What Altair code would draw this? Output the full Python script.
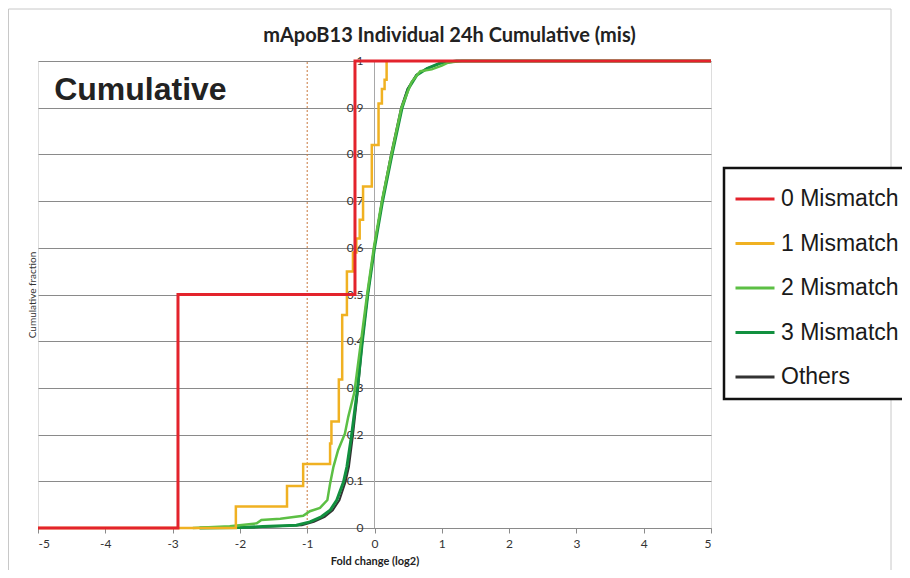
import altair as alt
import pandas as pd

# ---- data ----
series_names = ["0 Mismatch", "1 Mismatch", "2 Mismatch", "3 Mismatch", "Others"]
series_colors = ["#e3232c", "#f0b122", "#5cbf44", "#12903f", "#333333"]

x0 = [-5.0, -2.92, -0.29, 5.0]
y0 = [0.0, 0.5, 1.0, 1.0]

x1 = [-5.0, -2.06, -1.30, -1.06, -0.66, -0.64, -0.53, -0.48, -0.41, -0.32,
      -0.27, -0.22, -0.17, -0.04, 0.06, 0.11, 0.15, 0.18]
y1 = [0.0, 0.046, 0.09, 0.137, 0.181, 0.228, 0.318, 0.456, 0.549, 0.59,
      0.62, 0.66, 0.731, 0.82, 0.909, 0.94, 0.96, 1.0]

x2 = [-2.7, -2.15, -1.75, -1.68, -1.40, -1.06, -0.96, -0.81, -0.70, -0.66,
      -0.61, -0.54, -0.44, -0.39, -0.30, -0.20, -0.11, -0.01, 0.11, 0.25,
      0.40, 0.55, 0.68, 0.85, 1.00, 1.10, 1.30, 5.0]
y2 = [0.0, 0.004, 0.01, 0.017, 0.02, 0.026, 0.036, 0.043, 0.06, 0.095,
      0.131, 0.167, 0.202, 0.238, 0.29, 0.40, 0.50, 0.60, 0.70, 0.80,
      0.90, 0.955, 0.978, 0.982, 0.99, 0.997, 1.0, 1.0]

x3 = [-2.6, -2.0, -1.66, -1.16, -0.96, -0.79, -0.66, -0.56, -0.46, -0.41,
      -0.34, -0.26, -0.18, -0.10, 0.0, 0.12, 0.26, 0.41, 0.50, 0.63,
      0.78, 0.97, 1.22, 5.0]
y3 = [0.0, 0.001, 0.003, 0.006, 0.013, 0.024, 0.038, 0.06, 0.099, 0.131,
      0.199, 0.29, 0.40, 0.50, 0.60, 0.70, 0.80, 0.90, 0.94, 0.97,
      0.984, 0.995, 1.0, 1.0]

xo = [-2.5, -1.9, -1.55, -1.08, -0.90, -0.74, -0.62, -0.52, -0.43, -0.38,
      -0.32, -0.25, -0.18, -0.10, -0.005, 0.11, 0.245, 0.395, 0.49, 0.62,
      0.78, 0.98, 1.24, 5.0]
yo = y3

y_ticks = [0, 0.1, 0.2, 0.3, 0.4, 0.5, 0.6, 0.7, 0.8, 0.9, 1]
y_tick_labels = ["0", "0.1", "0.2", "0.3", "0.4", "0.5", "0.6", "0.7", "0.8", "0.9", "1"]
x_ticks = [-5, -4, -3, -2, -1, 0, 1, 2, 3, 4, 5]

# ---- tables ----
rows = []
for name, xs, ys in zip(series_names, [x0, x1, x2, x3, xo], [y0, y1, y2, y3, yo]):
    for i, (a, b) in enumerate(zip(xs, ys)):
        rows.append({"series": name, "x": a, "y": b, "i": i})
lines = pd.DataFrame(rows)
ylab = pd.DataFrame({"x": [0] * len(y_ticks), "y": y_ticks, "label": y_tick_labels})
vref = pd.DataFrame({"x": [0], "y": [0], "y2": [1]})
dref = pd.DataFrame({"x": [-1], "y": [0], "y2": [1]})
annot = pd.DataFrame({"x": [-4.76], "y": [0.9165], "label": ["Cumulative"]})
frame_df = pd.DataFrame({"k": [0]})

W, H = 673, 467
xscale = alt.Scale(domain=[-5, 5], nice=False, zero=False)
yscale = alt.Scale(domain=[0, 1], nice=False)
color = alt.Color(
    "series:N",
    scale=alt.Scale(domain=series_names, range=series_colors),
    legend=alt.Legend(
        title=None, orient="none", legendX=686, legendY=107,
        strokeColor="#111111", fillColor="white",
        padding=10, symbolType="stroke", symbolSize=1521, symbolStrokeWidth=3,
        labelFont="Liberation Sans", labelFontSize=23, labelColor="#1a1a1a",
        labelOffset=5, rowPadding=11.5, labelLimit=300,
    ),
)

# chart-area frame (decorative border of the original chart object)
frame = alt.Chart(frame_df).mark_rect(
    fillOpacity=0, stroke="#c8c8c8", strokeWidth=1
).encode(x=alt.value(-29.5), x2=alt.value(853), y=alt.value(-52), y2=alt.value(560))

base_grid = alt.Chart(ylab).mark_point(opacity=0).encode(
    x=alt.X("x:Q", scale=xscale,
            axis=alt.Axis(values=x_ticks, labelExpr="toString(datum.value)",
                          grid=False, domainColor="#8a8a8a", tickColor="#8a8a8a",
                          tickSize=5, labelFont="Lato", labelFontSize=12,
                          labelColor="#333333", labelPadding=5,
                          title="Fold change (log2)", titleFont="Lato",
                          titleFontSize=11, titleFontWeight="bold",
                          titleColor="#222222", titlePadding=6)),
    y=alt.Y("y:Q", scale=yscale,
            axis=alt.Axis(values=y_ticks, grid=True, gridColor="#8a8a8a",
                          gridWidth=1, labels=False, ticks=False, domain=False,
                          title="Cumulative fraction", titleFont="Lato",
                          titleFontSize=10, titleFontWeight="normal",
                          titleColor="#333333", titlePadding=1)),
)

vline = alt.Chart(vref).mark_rule(color="#a8a8a8", strokeWidth=1).encode(
    x="x:Q", y="y:Q", y2="y2:Q")
dline = alt.Chart(dref).mark_rule(color="#c8783c", strokeWidth=1, strokeDash=[2, 2]).encode(
    x="x:Q", y="y:Q", y2="y2:Q")

labels = alt.Chart(ylab).mark_text(
    align="right", baseline="middle", dx=-11, font="Lato", fontSize=12, color="#333333"
).encode(x="x:Q", y="y:Q", text="label:N")


def series_layer(name, interp, width):
    return alt.Chart(lines).transform_filter(
        alt.datum.series == name
    ).mark_line(interpolate=interp, strokeWidth=width).encode(
        x="x:Q", y="y:Q", order="i:Q", color=color)


l_oth = series_layer("Others", "linear", 2)
l_3 = series_layer("3 Mismatch", "linear", 3)
l_2 = series_layer("2 Mismatch", "linear", 2.5)
l_1 = series_layer("1 Mismatch", "step-after", 2.5)
l_0 = series_layer("0 Mismatch", "step-after", 3)

big = alt.Chart(annot).mark_text(
    align="left", baseline="alphabetic", font="Liberation Sans", fontSize=32,
    fontWeight="bold", color="#222222"
).encode(x="x:Q", y="y:Q", text="label:N")

chart = alt.layer(
    frame, base_grid, vline, dline, labels, l_oth, l_3, l_2, l_1, l_0, big
).properties(
    width=W, height=H,
    title=alt.TitleParams("mApoB13 Individual 24h Cumulative (mis)", font="Lato",
                          fontSize=20, fontWeight="bold", color="#222222",
                          anchor="middle", dx=75, offset=-37),
    autosize=alt.AutoSizeParams(type="none"),
    padding={"left": 30, "top": 53, "right": 191, "bottom": 42},
).configure_view(stroke=None).configure(background="white").configure_legend(
    strokeWidth=2.5
)

chart.save("out.html", embed_options={"renderer": "svg", "actions": False})
